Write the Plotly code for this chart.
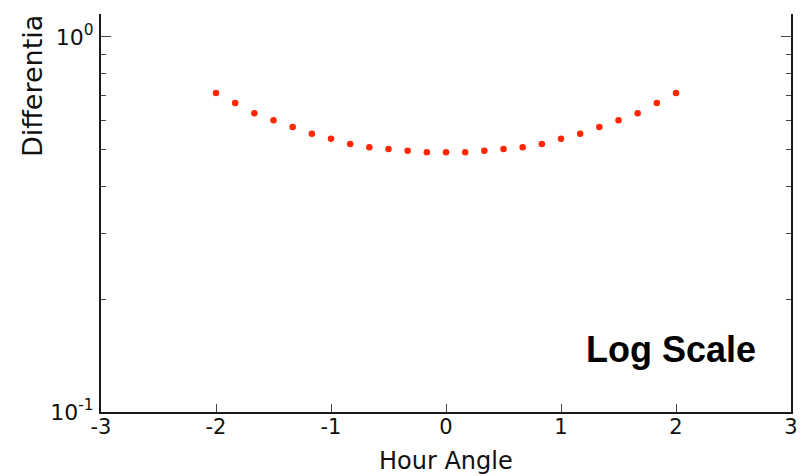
import plotly.graph_objects as go

# Data
hour_angle = [-2 + k / 6 for k in range(25)]
differential = [0.709, 0.667, 0.626, 0.600, 0.575, 0.552, 0.535, 0.518, 0.508, 0.503, 0.497, 0.493,
                0.493,
                0.493, 0.497, 0.503, 0.508, 0.518, 0.535, 0.552, 0.575, 0.600, 0.626, 0.667, 0.709]
x_ticks = [-3, -2, -1, 0, 1, 2, 3]
y_major = [0.1, 1.0]
y_major_text = ["10<sup>-1</sup>", "10<sup>0</sup>"]
y_minor = [0.2, 0.3, 0.4, 0.5, 0.6, 0.7, 0.8, 0.9]

fig = go.Figure()
fig.add_trace(go.Scatter(
    x=hour_angle, y=differential, mode="markers",
    marker=dict(size=6.5, color="#ff2600", line=dict(width=0)),
    showlegend=False,
))

axis_font = dict(family="DejaVu Sans", size=21, color="#111111")

fig.update_layout(
    width=806, height=476,
    margin=dict(l=101, r=8, t=14, b=64),
    paper_bgcolor="white", plot_bgcolor="white",
    xaxis=dict(
        range=[-3, 3], tickmode="array", tickvals=x_ticks,
        ticktext=[str(v) for v in x_ticks],
        ticks="inside", ticklen=8, tickwidth=1, tickcolor="#444444",
        showline=True, linecolor="#1a1a1a", linewidth=2, mirror=False,
        showgrid=False, zeroline=False, tickfont=axis_font,
        ticklabelstandoff=-5,
    ),
    yaxis=dict(
        type="log", range=[-1, 0.0613], tickmode="array", tickvals=y_major,
        ticktext=y_major_text,
        ticks="inside", ticklen=10, tickwidth=1, tickcolor="#444444",
        showline=True, linecolor="#1a1a1a", linewidth=2, mirror="ticks",
        showgrid=False, zeroline=False, tickfont=dict(family="DejaVu Sans", size=22, color="#111111"),
        ticklabelstandoff=1,
        minor=dict(tickmode="array", tickvals=y_minor, ticks="inside",
                   ticklen=5, tickwidth=1, tickcolor="#444444", showgrid=False),
    ),
    annotations=[
        dict(text="Hour Angle", xref="x", yref="paper", x=0, y=-0.123,
             xanchor="center", yanchor="middle", showarrow=False,
             font=dict(family="DejaVu Sans", size=24, color="#111111")),
        dict(text="Differentia", xref="paper", yref="paper",
             x=(32 - 101) / 696, y=(412 - 86.5) / 398, textangle=-90,
             xanchor="center", yanchor="middle", showarrow=False,
             font=dict(family="DejaVu Sans", size=27, color="#111111")),
        dict(text="<b>Log Scale</b>", xref="paper", yref="paper",
             x=(677 - 101) / 697, y=(412 - 349) / 398,
             xanchor="center", yanchor="middle", showarrow=False,
             font=dict(family="Liberation Sans", size=36, color="black")),
    ],
)

fig.write_html("out.html")
